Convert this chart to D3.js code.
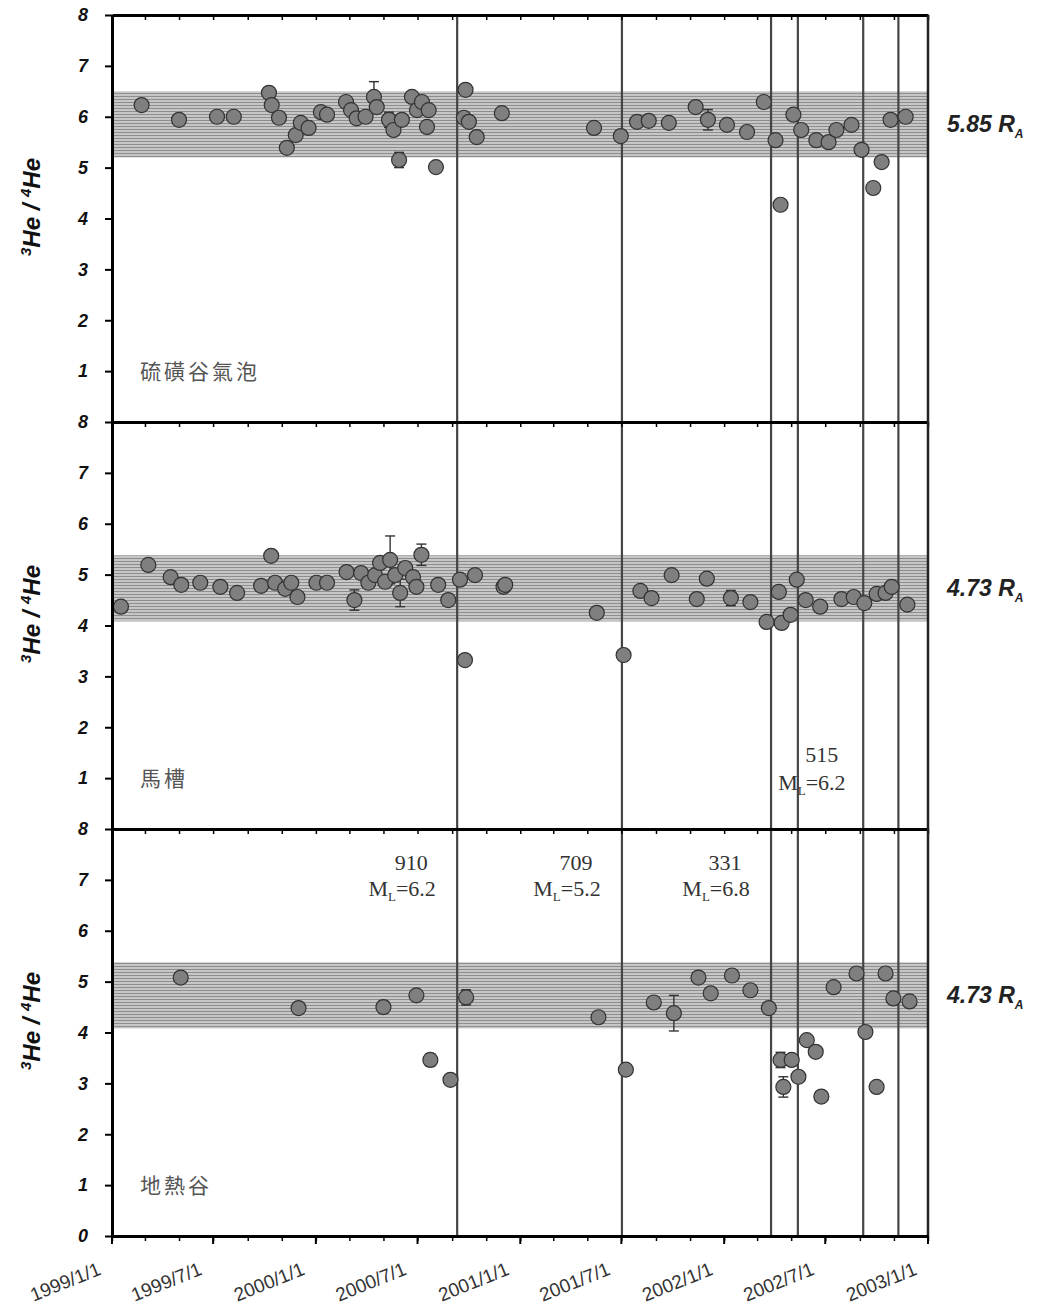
<!DOCTYPE html>
<html>
<head>
<meta charset="utf-8">
<script src="https://cdn.jsdelivr.net/npm/d3@7"></script>
<style>
  body { margin: 0; background: #fff; }
</style>
</head>
<body>
<script>
// panel order: top, middle, bottom
const panelNames = ["硫磺谷氣泡", "馬槽", "地熱谷"];
const bandLow = [5.2, 4.08, 4.08];
const bandHigh = [6.5, 5.38, 5.38];
const bandCenter = [5.85, 4.73, 4.73];

// 硫磺谷氣泡
const topDates = ["1999-02-23","1999-05-01","1999-07-08","1999-08-07","1999-10-09","1999-10-14","1999-10-27","1999-11-10","1999-11-26","1999-12-05","1999-12-19","2000-01-10","2000-01-21","2000-02-24","2000-03-04","2000-03-14","2000-03-30","2000-04-14","2000-04-19","2000-05-11","2000-05-19","2000-05-29","2000-06-03","2000-06-21","2000-06-30","2000-07-09","2000-07-18","2000-07-21","2000-08-03","2000-09-22","2000-09-25","2000-10-01","2000-10-15","2000-11-29","2001-05-13","2001-06-30","2001-07-29","2001-08-19","2001-09-24","2001-11-11","2001-12-03","2002-01-06","2002-02-11","2002-03-13","2002-04-03","2002-04-12","2002-05-05","2002-05-19","2002-06-15","2002-07-07","2002-07-21","2002-08-17","2002-09-04","2002-09-25","2002-10-10","2002-10-26","2002-11-22"];
const topValues = [6.23,5.94,6.00,6.00,6.47,6.23,5.98,5.39,5.64,5.88,5.78,6.09,6.04,6.29,6.13,5.97,6.00,6.39,6.19,5.94,5.74,5.15,5.94,6.39,6.13,6.29,5.80,6.13,5.01,5.98,6.53,5.90,5.60,6.07,5.78,5.62,5.90,5.92,5.88,6.19,5.94,5.84,5.70,6.29,5.54,4.27,6.04,5.74,5.54,5.50,5.74,5.84,5.35,4.60,5.11,5.94,6.00];
const topErrors = [0,0.1,0,0,0,0,0,0,0,0,0,0,0,0,0,0,0,0.3,0,0.15,0,0.15,0,0,0,0,0,0,0,0,0,0,0,0,0,0,0,0,0,0,0.2,0,0,0,0,0,0,0,0,0,0,0,0,0,0,0,0];

// 馬槽
const midDates = ["1999-01-17","1999-03-07","1999-04-16","1999-05-05","1999-06-08","1999-07-14","1999-08-13","1999-09-25","1999-10-13","1999-10-20","1999-11-07","1999-11-18","1999-11-29","2000-01-02","2000-01-21","2000-02-25","2000-03-10","2000-03-22","2000-04-04","2000-04-16","2000-04-25","2000-05-04","2000-05-13","2000-05-22","2000-05-31","2000-06-09","2000-06-23","2000-06-29","2000-07-08","2000-08-07","2000-08-25","2000-09-15","2000-09-24","2000-10-12","2000-12-02","2000-12-05","2001-05-18","2001-07-05","2001-08-04","2001-08-24","2001-09-29","2001-11-13","2001-12-01","2002-01-13","2002-02-17","2002-03-18","2002-04-09","2002-04-14","2002-04-30","2002-05-11","2002-05-27","2002-06-22","2002-07-30","2002-08-21","2002-09-09","2002-10-01","2002-10-17","2002-10-28","2002-11-25"];
const midValues = [4.37,5.19,4.95,4.80,4.84,4.76,4.64,4.78,5.37,4.84,4.72,4.84,4.56,4.84,4.84,5.05,4.50,5.03,4.84,4.99,5.23,4.86,5.29,4.99,4.64,5.13,4.95,4.76,5.39,4.80,4.50,4.90,3.32,4.99,4.76,4.80,4.25,3.42,4.68,4.54,4.99,4.52,4.92,4.54,4.46,4.07,4.66,4.05,4.21,4.90,4.50,4.37,4.52,4.56,4.44,4.62,4.64,4.76,4.41];
const midErrors = [0,0,0,0,0,0,0,0,0,0,0,0,0,0,0,0,0.2,0,0,0,0,0,0.47,0,0.27,0,0,0,0.21,0,0,0,0,0,0,0,0,0,0,0,0,0,0,0.15,0,0,0,0,0,0,0,0,0,0,0,0,0,0,0];

// 地熱谷
const botDates = ["1999-05-04","1999-12-01","2000-05-01","2000-06-29","2000-07-24","2000-08-29","2000-09-26","2001-05-21","2001-07-09","2001-08-28","2001-10-03","2001-11-16","2001-12-08","2002-01-15","2002-02-17","2002-03-22","2002-04-12","2002-04-17","2002-05-02","2002-05-14","2002-05-29","2002-06-14","2002-06-24","2002-07-16","2002-08-26","2002-09-11","2002-10-01","2002-10-17","2002-10-31","2002-11-29"];
const botValues = [5.08,4.48,4.50,4.73,3.46,3.07,4.69,4.30,3.27,4.59,4.38,5.08,4.77,5.12,4.83,4.48,3.46,2.93,3.46,3.13,3.85,3.62,2.74,4.89,5.16,4.01,2.93,5.16,4.67,4.61];
const botErrors = [0,0,0.12,0,0.12,0,0.15,0,0,0,0.35,0,0,0,0,0,0.15,0.2,0,0,0,0,0,0,0,0,0,0,0,0];

// earthquakes (vertical lines)
const eventDates = ["2000-09-10","2001-07-02","2002-03-26","2002-05-13","2002-09-07","2002-11-09"];
const eventCodes = ["910","709","331","515","",""];
const eventMags = ["6.2","5.2","6.8","6.2","",""];

const parse = d3.timeParse("%Y-%m-%d");
const panels = [
    {dates: topDates, values: topValues, errors: topErrors},
    {dates: midDates, values: midValues, errors: midErrors},
    {dates: botDates, values: botValues, errors: botErrors}
];

const width = 1039, height = 1307;
const margin = {top: 15, left: 112, right: 111};
const panelH = 407;
const plotBottom = margin.top + 3 * panelH;

const svg = d3.select("body").append("svg")
    .attr("width", width)
    .attr("height", height)
    .style("font-family", "'Liberation Sans', Arial, sans-serif");

const x = d3.scaleTime()
    .domain([parse("1999-01-01"), parse("2003-01-01")])
    .range([margin.left, width - margin.right]);

// striped grey band like the scanned figure
const pat = svg.append("defs").append("pattern")
    .attr("id", "band")
    .attr("patternUnits", "userSpaceOnUse")
    .attr("width", 4)
    .attr("height", 3);
pat.append("rect").attr("width", 4).attr("height", 3).attr("fill", "#c6c6c6");
pat.append("rect").attr("width", 4).attr("height", 1).attr("fill", "#8e8e8e");

const ys = panels.map((p, i) => {
    const top = margin.top + i * panelH;
    return d3.scaleLinear().domain([0, 8]).range([top + panelH, top]);
});

// bands first
panels.forEach((p, i) => {
    const y = ys[i];
    svg.append("rect")
        .attr("x", x.range()[0])
        .attr("width", x.range()[1] - x.range()[0])
        .attr("y", y(bandHigh[i]))
        .attr("height", y(bandLow[i]) - y(bandHigh[i]))
        .attr("fill", "url(#band)");
});

// event lines through all panels
svg.selectAll(".event")
    .data(eventDates)
    .enter()
    .append("line")
    .attr("class", "event")
    .attr("x1", d => x(parse(d)))
    .attr("x2", d => x(parse(d)))
    .attr("y1", margin.top)
    .attr("y2", plotBottom)
    .attr("stroke", "#454545")
    .attr("stroke-width", 2.2);

panels.forEach((p, i) => {
    const y = ys[i];
    const top = margin.top + i * panelH;
    const g = svg.append("g");

    const pts = p.dates.map((d, k) => ({date: parse(d), value: p.values[k], err: p.errors[k]}));

    // error bars
    const eb = g.selectAll(".err")
        .data(pts.filter(d => d.err > 0))
        .enter()
        .append("g")
        .attr("stroke", "#333")
        .attr("stroke-width", 1.4);
    eb.append("line")
        .attr("x1", d => x(d.date)).attr("x2", d => x(d.date))
        .attr("y1", d => y(d.value + d.err)).attr("y2", d => y(d.value - d.err));
    eb.append("line")
        .attr("x1", d => x(d.date) - 5).attr("x2", d => x(d.date) + 5)
        .attr("y1", d => y(d.value + d.err)).attr("y2", d => y(d.value + d.err));
    eb.append("line")
        .attr("x1", d => x(d.date) - 5).attr("x2", d => x(d.date) + 5)
        .attr("y1", d => y(d.value - d.err)).attr("y2", d => y(d.value - d.err));

    g.selectAll(".pt")
        .data(pts)
        .enter()
        .append("circle")
        .attr("cx", d => x(d.date))
        .attr("cy", d => y(d.value))
        .attr("r", 7.5)
        .attr("fill", "#7f7f7f")
        .attr("stroke", "#333")
        .attr("stroke-width", 1.2);

    // left axis
    const ticks = i === 2 ? d3.range(0, 9) : d3.range(1, 9);
    const ay = g.append("g")
        .attr("transform", "translate(" + margin.left + ",0)")
        .call(d3.axisLeft(y).tickValues(ticks).tickSize(7).tickSizeOuter(0).tickPadding(17));
    ay.select(".domain").attr("stroke", "#000").attr("stroke-width", 3);
    ay.selectAll(".tick line").attr("stroke", "#000").attr("stroke-width", 2);
    ay.selectAll("text")
        .style("font-size", "18px")
        .style("font-weight", "bold")
        .style("font-style", "italic")
        .attr("fill", "#111");

    // top border with inward ticks
    const at = g.append("g")
        .attr("transform", "translate(0," + top + ")")
        .call(d3.axisBottom(x).ticks(d3.timeMonth.every(2)).tickSize(5).tickSizeOuter(0).tickFormat(""));
    at.select(".domain").attr("stroke", "#000").attr("stroke-width", 3);
    at.selectAll(".tick line").attr("stroke", "#000").attr("stroke-width", 1.5);

    // y title
    const yt = g.append("text")
        .attr("transform", "translate(40," + (top + 192) + ") rotate(-90)")
        .attr("text-anchor", "middle")
        .style("font-size", "24px")
        .style("font-weight", "bold")
        .style("font-style", "italic")
        .attr("fill", "#111");
    yt.append("tspan").text("3").style("font-size", "15px").attr("dy", -9);
    yt.append("tspan").text("He / ").attr("dy", 9);
    yt.append("tspan").text("4").style("font-size", "15px").attr("dy", -9);
    yt.append("tspan").text("He").attr("dy", 9);

    // station name
    g.append("text")
        .attr("x", 140)
        .attr("y", y(1) + 8)
        .style("font-family", "'Noto Sans CJK TC', sans-serif")
        .style("font-size", "21px")
        .style("letter-spacing", "3px")
        .attr("fill", "#555")
        .text(panelNames[i]);

    // band value on the right
    const rl = g.append("text")
        .attr("x", width - margin.right + 19)
        .attr("y", y(bandCenter[i]) + 8)
        .style("font-size", "23px")
        .style("font-weight", "bold")
        .style("font-style", "italic")
        .attr("fill", "#222")
        .text(bandCenter[i].toFixed(2) + " R");
    rl.append("tspan").text("A").style("font-size", "12px").attr("dy", 6);
});

// right border
svg.append("line")
    .attr("x1", x.range()[1]).attr("x2", x.range()[1])
    .attr("y1", margin.top).attr("y2", plotBottom)
    .attr("stroke", "#222")
    .attr("stroke-width", 2.5);

// bottom axis
const ab = svg.append("g")
    .attr("transform", "translate(0," + plotBottom + ")")
    .call(d3.axisBottom(x).ticks(d3.timeMonth.every(2)).tickSize(5).tickSizeOuter(0).tickFormat(""));
ab.select(".domain").attr("stroke", "#000").attr("stroke-width", 3);
ab.selectAll(".tick line").attr("stroke", "#000").attr("stroke-width", 1.5);

const labelTicks = x.ticks(d3.timeMonth.every(6));
const fmt = d3.timeFormat("%Y/%-m/%-d");
svg.selectAll(".xmaj")
    .data(labelTicks)
    .enter()
    .append("line")
    .attr("x1", d => x(d)).attr("x2", d => x(d))
    .attr("y1", plotBottom).attr("y2", plotBottom + 8)
    .attr("stroke", "#000")
    .attr("stroke-width", 2);
svg.selectAll(".xlab")
    .data(labelTicks)
    .enter()
    .append("text")
    .attr("transform", d => "translate(" + (x(d) - 10) + "," + (plotBottom + 38) + ") rotate(-22)")
    .attr("text-anchor", "end")
    .style("font-size", "19px")
    .attr("fill", "#333")
    .text(d => fmt(d));

// earthquake annotations
eventCodes.forEach((code, k) => {
    if (!code) return;
    const lx = x(parse(eventDates[k]));
    const onRight = code === "515";
    const y = onRight ? ys[1] : ys[2];
    const numX = onRight ? lx + 24 : lx - 46;
    const magX = onRight ? lx + 14 : lx - 55;
    const numY = onRight ? y(1.32) : y(7.2);
    const magY = onRight ? y(0.77) : y(6.68);
    const tg = svg.append("g")
        .style("font-family", "'Liberation Serif', 'Times New Roman', serif")
        .attr("fill", "#333");
    tg.append("text")
        .attr("x", numX).attr("y", numY)
        .attr("text-anchor", "middle")
        .style("font-size", "22px")
        .text(code);
    const m = tg.append("text")
        .attr("x", magX).attr("y", magY)
        .attr("text-anchor", "middle")
        .style("font-size", "22px");
    m.append("tspan").text("M");
    m.append("tspan").text("L").style("font-size", "13px").attr("dy", 5);
    m.append("tspan").text("=" + eventMags[k]).attr("dy", -5);
});
</script>
</body>
</html>
